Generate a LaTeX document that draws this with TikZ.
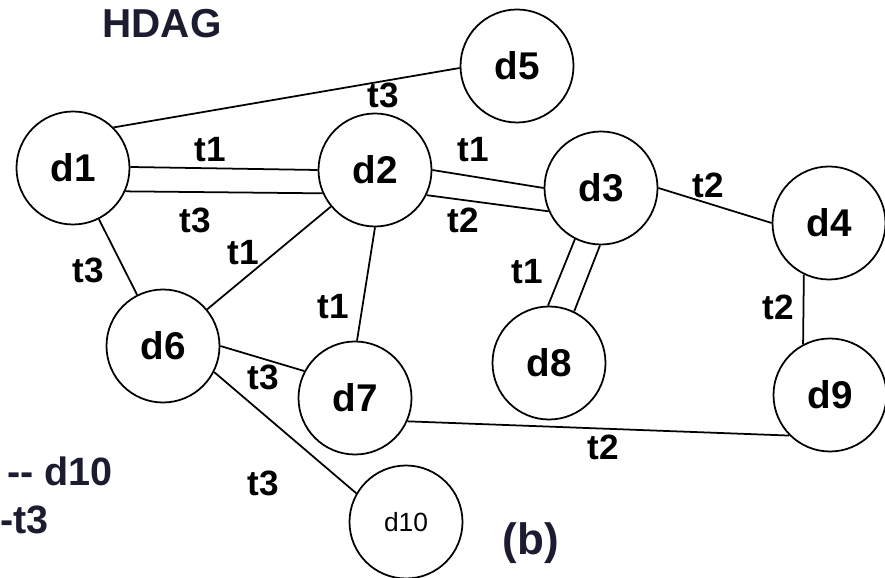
\documentclass[tikz,border=0pt]{standalone}
\usepackage{fontspec}
\setmainfont{Liberation Sans}
\definecolor{headcol}{RGB}{28,28,48}

\begin{document}
\begin{tikzpicture}[
		doc/.style={circle, draw, line width=1pt, minimum size=2.26cm, inner sep=0pt, font=\fontsize{22}{22}\selectfont\bfseries},
		tag/.style={font=\fontsize{20}{20}\selectfont\bfseries, inner sep=1pt},
		head/.style={text=headcol, inner sep=0pt, font=\fontsize{22.5}{22.5}\selectfont\bfseries},
		link/.style={line width=1pt}]
		\useasboundingbox (0, 0) rectangle (17.7, -11.56);
		%%
		\node[doc] (d1) at (1.46, -3.36) {d1};
		\node[doc] (d2) at (7.5, -3.4) {d2};
		\node[doc] (d3) at (12.02, -3.76) {d3};
		\node[doc] (d4) at (16.58, -4.46) {d4};
		\node[doc] (d5) at (10.34, -1.32) {d5};
		\node[doc] (d6) at (3.26, -6.92) {d6};
		\node[doc] (d7) at (7.1, -7.96) {d7};
		\node[doc] (d8) at (10.98, -7.26) {d8};
		\node[doc] (d9) at (16.6, -7.9) {d9};
		\node[doc, font=\fontsize{15}{15}\selectfont] (d10) at (8.12, -10.44) {d10};
		%%
		\draw[link] (d1.45) -- (d5.182);
		\draw[link] (d1.1) -- (d2.180);
		\draw[link] (d1.336) -- (d2.204);
		\draw[link] (d2.0) -- (d3.180);
		\draw[link] (d2.334) -- (d3.204);
		\draw[link] (d3.243) -- (d8.91);
		\draw[link] (d3.269) -- (d8.64);
		\draw[link] (d3.0) -- (d4.180);
		\draw[link] (d4.244) -- (d9.118);
		\draw[link] (d1) -- (d6);
		\draw[link] (d2) -- (d6);
		\draw[link] (d2.270) -- (d7.88);
		\draw[link] (d6.0) -- (d7.152);
		\draw[link] (d6.333) -- (d10.150);
		\draw[link] (d7.336) -- (d9.225);
		%%
		\node[tag] (t15) at (7.66, -1.9) {t3};
		\node[tag] (t12a) at (4.2, -3.0) {t1};
		\node[tag] (t12b) at (3.9, -4.4) {t3};
		\node[tag] (t23a) at (9.46, -3.0) {t1};
		\node[tag] (t23b) at (9.26, -4.4) {t2};
		\node[tag] (t38) at (10.54, -5.44) {t1};
		\node[tag] (t34) at (14.16, -3.7) {t2};
		\node[tag] (t49) at (15.56, -6.14) {t2};
		\node[tag] (t16) at (1.76, -5.4) {t3};
		\node[tag] (t26) at (4.86, -5.06) {t1};
		\node[tag] (t27) at (6.66, -6.14) {t1};
		\node[tag] (t67) at (5.26, -7.54) {t3};
		\node[tag] (t610) at (5.26, -9.66) {t3};
		\node[tag] (t79) at (12.06, -8.94) {t2};
		%%
		\node[head, font=\fontsize{23}{23}\selectfont\bfseries] (title) at (3.24, -0.48) {HDAG};
		\node[head, anchor=west] (key1) at (0.14, -9.42) {-{}- d10};
		\node[head, anchor=west] (key2) at (0, -10.4) {-t3};
		\node[head, font=\fontsize{25}{25}\selectfont\bfseries] (sub) at (10.62, -10.86) {(b)};
	\end{tikzpicture}
\end{document}
